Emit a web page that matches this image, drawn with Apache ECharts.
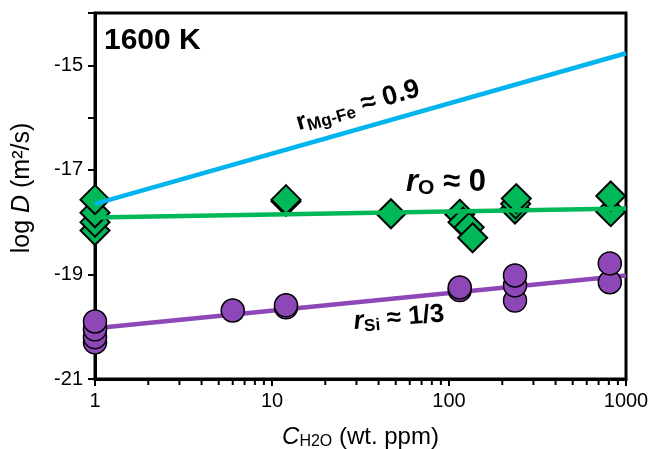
<!DOCTYPE html>
<html>
<head>
<meta charset="utf-8">
<script src="https://cdn.jsdelivr.net/npm/echarts@6/dist/echarts.min.js"></script>
<style>
html,body{margin:0;padding:0;background:#fff;}
#chart{width:652px;height:449px;}
</style>
</head>
<body>
<div id="chart"></div>
<script>
// fit lines, [C_H2O, log D]
var lineMgFe = [[1, -17.65], [1000, -14.77]];
var lineO = [[1, -17.91], [1000, -17.74]];
var lineSi = [[1, -20.03], [1000, -19.02]];

// oxygen diffusion points
var pointsO = [
  [1, -18.16], [1, -18.0], [1, -17.82], [1, -17.57],
  [12, -17.6], [12, -17.57],
  [47, -17.84],
  [115, -17.85], [120, -18.0], [130, -18.1], [136, -18.3],
  [236, -17.75], [238, -17.65], [240, -17.55],
  [820, -17.8], [820, -17.5]
];
// silicon diffusion points
var pointsSi = [
  [1, -20.3], [1, -20.2], [1, -20.05], [1, -19.9],
  [6, -19.69],
  [12, -19.63], [12, -19.59],
  [115, -19.3], [115, -19.25],
  [236, -19.5], [236, -19.21], [236, -19.02],
  [810, -19.15], [810, -18.79]
];

var minorTicksX = [2,3,4,5,6,7,8,9,20,30,40,50,60,70,80,90,200,300,400,500,600,700,800,900];

var chart = echarts.init(document.getElementById("chart"));

var font = "Liberation Sans";

var option = {
  animation: false,
  grid: {
    left: 95, right: 26, top: 13, bottom: 70,
    outerBoundsMode: "none",
    containLabel: false,
    show: true, borderColor: "#000", borderWidth: 3
  },
  xAxis: {
    type: "log",
    logBase: 10,
    min: 1,
    max: 1000,
    axisLine: {lineStyle: {color: "#000", width: 3}},
    axisTick: {inside: false, length: 7, lineStyle: {color: "#000", width: 2}},
    splitLine: {show: false},
    axisLabel: {
      color: "#000", fontSize: 20, fontFamily: font, margin: 12,
      formatter: function (v) { return String(Math.round(v)); }
    },
    name: "{i|C}{sub|H2O} (wt. ppm)",
    nameLocation: "middle",
    nameGap: 45,
    nameTextStyle: {
      color: "#000", fontSize: 24, fontFamily: font,
      rich: {
        i: {fontStyle: "italic", fontSize: 24, fontFamily: font, color: "#000"},
        sub: {fontSize: 16, fontFamily: font, color: "#000", verticalAlign: "bottom", padding: [10, 0, 0, 0]}
      }
    }
  },
  yAxis: {
    type: "value",
    min: -21,
    max: -14,
    interval: 1,
    axisLine: {lineStyle: {color: "#000", width: 3}},
    axisTick: {inside: false, length: 7, lineStyle: {color: "#000", width: 2}},
    splitLine: {show: false},
    axisLabel: {
      color: "#000", fontSize: 20, fontFamily: font, margin: 12,
      formatter: function (v) { return (Math.abs(v) % 2 === 1 && v !== -14) ? String(v) : ""; }
    },
    name: "log {i|D} (m²/s)",
    nameLocation: "middle",
    nameRotate: 90,
    nameGap: 60,
    nameTextStyle: {
      color: "#000", fontSize: 25, fontFamily: font,
      padding: [0, 0, 0, 16],
      rich: {
        i: {fontStyle: "italic", fontSize: 25, fontFamily: font, color: "#000"}
      }
    }
  },
  series: [
    {
      type: "custom",
      silent: true,
      clip: false,
      data: minorTicksX.map(function (v) { return [v, -21]; }),
      renderItem: function (params, api) {
        var p = api.coord([api.value(0), api.value(1)]);
        return {
          type: "line",
          shape: {x1: p[0], y1: p[1] + 1, x2: p[0], y2: p[1] + 6},
          style: {stroke: "#000", lineWidth: 2}
        };
      },
      z: 5
    },
    {
      type: "line",
      data: lineSi,
      symbol: "none",
      lineStyle: {color: "#8E47B6", width: 4.5},
      z: 1
    },
    {
      type: "scatter",
      data: pointsSi,
      symbol: "circle",
      symbolSize: 23,
      itemStyle: {color: "#8E47B6", borderColor: "#000", borderWidth: 1.5, opacity: 1},
      z: 2
    },
    {
      type: "scatter",
      data: pointsO,
      symbol: "diamond",
      symbolSize: 29,
      itemStyle: {color: "#00B858", borderColor: "#000", borderWidth: 2, opacity: 1},
      z: 2
    },
    {
      type: "line",
      data: lineO,
      symbol: "none",
      lineStyle: {color: "#00B858", width: 4.5},
      z: 3
    },
    {
      type: "line",
      data: lineMgFe,
      symbol: "none",
      lineStyle: {color: "#00B4EE", width: 4.5},
      z: 3
    }
  ],
  graphic: [
    {
      type: "text",
      left: 104,
      top: 26,
      style: {text: "1600 K", font: "bold 30px " + font, fill: "#000"}
    },
    {
      type: "text",
      x: 358, y: 106,
      rotation: 16 * Math.PI / 180,
      style: {
        text: "{r|r}{s|Mg-Fe}{n| ≈ 0.9}",
        align: "center", verticalAlign: "middle",
        rich: {
          r: {font: "bold 25px " + font, fill: "#000"},
          s: {font: "bold 17px " + font, fill: "#000", verticalAlign: "bottom", padding: [11, 0, 0, 0]},
          n: {font: "bold 27px " + font, fill: "#000"}
        }
      }
    },
    {
      type: "text",
      x: 446, y: 182,
      style: {
        text: "{r|r}{s|O}{n| ≈ 0}",
        align: "center", verticalAlign: "middle",
        rich: {
          r: {font: "italic bold 31px " + font, fill: "#000"},
          s: {font: "bold 21px " + font, fill: "#000", verticalAlign: "bottom", padding: [13, 0, 0, 0]},
          n: {font: "bold 31px " + font, fill: "#000"}
        }
      }
    },
    {
      type: "text",
      x: 399, y: 318,
      rotation: 5 * Math.PI / 180,
      style: {
        text: "{r|r}{s|Si}{n| ≈ 1/3}",
        align: "center", verticalAlign: "middle",
        rich: {
          r: {font: "italic bold 26px " + font, fill: "#000"},
          s: {font: "bold 17px " + font, fill: "#000", verticalAlign: "bottom", padding: [11, 0, 0, 0]},
          n: {font: "bold 26px " + font, fill: "#000"}
        }
      }
    }
  ]
};

chart.setOption(option);
</script>
</body>
</html>
